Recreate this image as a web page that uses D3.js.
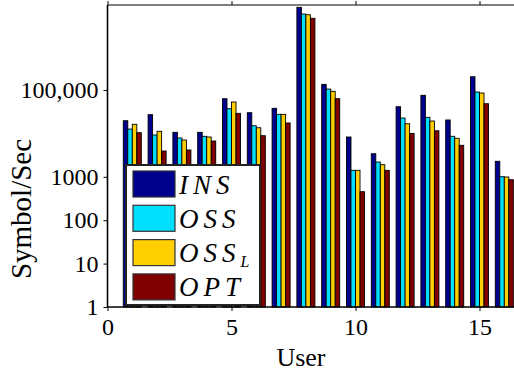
<!DOCTYPE html>
<html>
<head>
<meta charset="utf-8">
<script src="https://cdn.jsdelivr.net/npm/d3@7"></script>
</head>
<body style="margin: 0; background: #fff;">
<div id="chart"></div>
<script>
// values (symbols per second, log scale)
const users = [1, 2, 3, 4, 5, 6, 7, 8, 9, 10, 11, 12, 13, 14, 15, 16];
const insValues = [19600, 27000, 10600, 10600, 63000, 30000, 37900, 8050000, 135000, 8260, 3400, 41200, 75500, 20400, 202000, 2280];
const ossValues = [12600, 9190, 7840, 8570, 37100, 15000, 27500, 5640000, 105000, 1410, 2190, 22600, 23500, 8570, 90000, 1005];
const osslValues = [16200, 11200, 7050, 8260, 52900, 13500, 27500, 5430000, 93300, 1410, 1900, 16700, 19300, 7710, 85300, 990];
const optValues = [10400, 3930, 4150, 6680, 29000, 8850, 17400, 4490000, 63000, 454, 1410, 10000, 11500, 5320, 48300, 857];

const seriesNames = ["INS", "OSS", "OSS", "OPT"];
const seriesSubs = ["", "", "L", ""];
const xTicks = [0, 5, 10, 15];
const yTicks = [1, 10, 100, 1000, 100000];
const yTickLabels = ["1", "10", "100", "1000", "100,000"];

const colors = ["#00008f", "#00dfff", "#ffcf00", "#800000"];
const series = [insValues, ossValues, osslValues, optValues];
const FONT = "'Liberation Serif'";

const dimensions = {
  width: 514,
  height: 372,
  margin: { top: 5, left: 107.5, bottom: 65 },
};
const plotBottom = dimensions.height - dimensions.margin.bottom;

const svg = d3.select("#chart")
  .append("svg")
  .attr("width", dimensions.width)
  .attr("height", dimensions.height);

const xScale = d3.scaleLinear()
  .domain([0, 17])
  .range([dimensions.margin.left, dimensions.margin.left + 17 * 24.8]);

const yScale = d3.scaleLog()
  .domain([1, 9.1e6])
  .range([plotBottom, dimensions.margin.top]);

// grouped bars, matlab style group width
const groupWidth = 4 / (4 + 1.5);
const barWidth = groupWidth / series.length;

const bars = svg.append("g");
series.forEach((values, i) => {
  bars.selectAll(".bar-" + i)
    .data(values)
    .join("rect")
    .attr("class", "bar-" + i)
    .attr("x", (d, k) => xScale(users[k] - groupWidth / 2 + i * barWidth))
    .attr("width", xScale(barWidth) - xScale(0))
    .attr("y", (d) => yScale(d))
    .attr("height", (d) => yScale(1) - yScale(d))
    .attr("fill", colors[i])
    .attr("stroke", "#000")
    .attr("stroke-width", 0.9);
});

// axes (box with outward ticks)
const xAxisBottom = svg.append("g")
  .attr("transform", `translate(0, ${plotBottom})`)
  .call(d3.axisBottom(xScale).tickValues(xTicks).tickSize(4).tickPadding(7));
const xAxisTop = svg.append("g")
  .attr("transform", `translate(0, ${dimensions.margin.top})`)
  .call(d3.axisTop(xScale).tickValues(xTicks).tickSize(4).tickFormat(""));
const yAxis = svg.append("g")
  .attr("transform", `translate(${dimensions.margin.left}, 0)`)
  .call(d3.axisLeft(yScale).tickValues(yTicks).tickSize(4).tickPadding(5)
    .tickFormat((d, i) => yTickLabels[i]));

[xAxisBottom, xAxisTop, yAxis].forEach((ax) => {
  ax.attr("font-family", null).attr("font-size", null);
  ax.select(".domain").remove();
  ax.selectAll(".tick line").attr("stroke", "#000").attr("stroke-width", 1);
  ax.selectAll("text")
    .attr("fill", "#000")
    .style("font-size", "24px")
    .style("font-family", FONT);
});
xAxisBottom.selectAll("text").attr("dy", "0.71em");

svg.append("line")
  .attr("x1", dimensions.margin.left).attr("x2", dimensions.width)
  .attr("y1", dimensions.margin.top).attr("y2", dimensions.margin.top)
  .attr("stroke", "#000").attr("stroke-width", 1.2);
svg.append("line")
  .attr("x1", dimensions.margin.left).attr("x2", dimensions.width)
  .attr("y1", plotBottom).attr("y2", plotBottom)
  .attr("stroke", "#000").attr("stroke-width", 1.4);
svg.append("line")
  .attr("x1", dimensions.margin.left).attr("x2", dimensions.margin.left)
  .attr("y1", dimensions.margin.top).attr("y2", plotBottom)
  .attr("stroke", "#000").attr("stroke-width", 1.6);

// axis labels
svg.append("text")
  .attr("x", xScale(7.8))
  .attr("y", 366)
  .attr("text-anchor", "middle")
  .style("font-family", FONT)
  .style("font-size", "26px")
  .text("User");

svg.append("text")
  .attr("transform", "translate(31, 209) rotate(-90)")
  .attr("text-anchor", "middle")
  .style("font-family", FONT)
  .style("font-size", "29px")
  .text("Symbol/Sec");

// legend
const legend = svg.append("g").attr("transform", "translate(126, 165)");
legend.append("rect")
  .attr("width", 134)
  .attr("height", 140)
  .attr("fill", "#fff")
  .attr("stroke", "#222")
  .attr("stroke-width", 2);

seriesNames.forEach((name, i) => {
  const row = legend.append("g").attr("transform", `translate(0, ${6 + i * 34.3})`);
  row.append("rect")
    .attr("x", 7)
    .attr("y", 0)
    .attr("width", 42)
    .attr("height", 26)
    .attr("fill", colors[i])
    .attr("stroke", "#333")
    .attr("stroke-width", 1.2);
  const label = row.append("text")
    .attr("x", 53)
    .attr("y", 22.5)
    .style("font-family", FONT)
    .style("font-size", "27px")
    .style("font-style", "italic")
    .style("letter-spacing", "5px")
    .text(name);
  if (seriesSubs[i]) {
    label.append("tspan")
      .attr("dy", 5)
      .style("font-size", "16px")
      .style("letter-spacing", "0px")
      .text(seriesSubs[i]);
  }
});
</script>
</body>
</html>
